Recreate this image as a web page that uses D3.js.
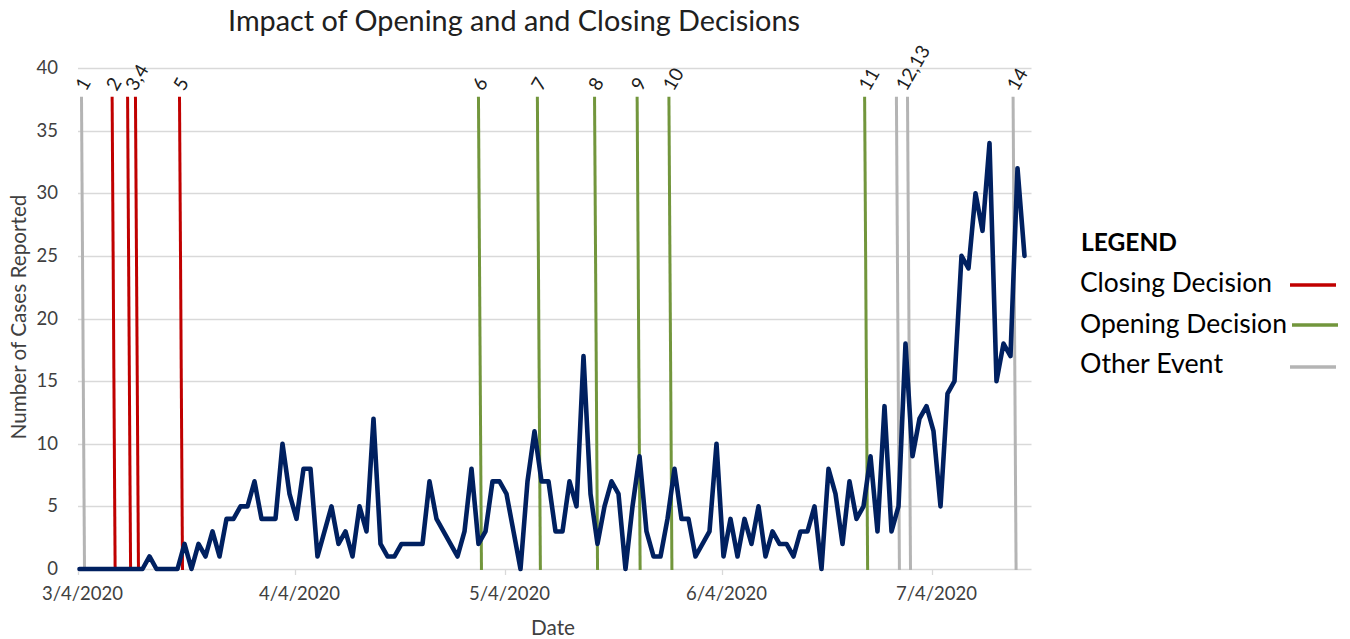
<!DOCTYPE html>
<html>
<head>
<meta charset="utf-8">
<script src="https://cdn.jsdelivr.net/npm/d3@7/dist/d3.min.js"></script>
<style>
  html, body { margin: 0; padding: 0; background: #ffffff; }
  svg { display: block; font-family: Lato, "Open Sans", sans-serif; }
</style>
</head>
<body>
<svg id="chart" width="1350" height="639"></svg>
<script>
// ---------------- DATA ----------------
const chartTitle = "Impact of Opening and and Closing Decisions";
const xAxisTitle = "Date";
const yAxisTitle = "Number of Cases Reported";

const startDate = "2020-03-04";
const endDate = "2020-07-18"; // exclusive end of daily categories (last point 7/17)

const cases = [
  0,0,0,0,0,0,0,0,0,0,
  1,0,0,0,0,2,0,2,1,3,
  1,4,4,5,5,7,4,4,4,10,
  6,4,8,8,1,3,5,2,3,1,
  5,3,12,2,1,1,2,2,2,2,
  7,4,3,2,1,3,8,2,3,7,
  7,6,3,0,7,11,7,7,3,3,
  7,5,17,6,2,5,7,6,0,5,
  9,3,1,1,4,8,4,4,1,2,
  3,10,1,4,1,4,2,5,1,3,
  2,2,1,3,3,5,0,8,6,2,
  7,4,5,9,3,13,3,5,18,9,
  12,13,11,5,14,15,25,24,30,27,
  34,15,18,17,32,25
];

const xTickDates = ["2020-03-04","2020-04-04","2020-05-04","2020-06-04","2020-07-04"];
const xTickLabels = ["3/4/2020","4/4/2020","5/4/2020","6/4/2020","7/4/2020"];
const yTicks = [0,5,10,15,20,25,30,35,40];

const eventDates = [
  "2020-03-04T12:00","2020-03-08T21:00","2020-03-11T02:00","2020-03-12T05:00",
  "2020-03-18T12:00","2020-04-30T05:00","2020-05-08T15:00","2020-05-16T19:00",
  "2020-05-22T21:00","2020-05-27T10:00","2020-06-24T09:00","2020-06-28T22:00",
  "2020-06-30T12:00","2020-07-15T14:00"
];
const eventTypes = [
  "other","closing","closing","closing","closing",
  "opening","opening","opening","opening","opening","opening",
  "other","other","other"
];
const eventTopValue = 37.7;
const eventLabels = ["1","2","3,4","5","6","7","8","9","10","11","12,13","14"];
const eventLabelGroups = [[0],[1],[2,3],[4],[5],[6],[7],[8],[9],[10],[11,12],[13]];

const legendTitle = "LEGEND";
const legendKeys = ["closing","opening","other"];
const legendNames = ["Closing Decision","Opening Decision","Other Event"];

// ---------------- STYLES ----------------
const eventColors = { closing: "#C00000", opening: "#72963C", other: "#B4B4B4" };
const lineColor = "#002060";
const gridColor = "#D9D9D9";
const textColor = "#404040";

// ---------------- DRAW ----------------
const parseDay = d3.timeParse("%Y-%m-%d");
const parseDT = d3.timeParse("%Y-%m-%dT%H:%M");
const days = d3.timeDay.range(parseDay(startDate), parseDay(endDate));
const series = days.map((d, i) => ({ date: d, value: cases[i] }));

const svg = d3.select("#chart");

const x = d3.scaleTime()
  .domain([parseDay(startDate), parseDay(endDate)])
  .range([79.5, 79.5 + 7 * days.length]);
const y = d3.scaleLinear().domain([0, 40]).range([569, 68]);

const plotLeft = 78, plotRight = x.range()[1];

function fitWidth(sel, w) {
  const len = sel.node().getComputedTextLength();
  const fs = parseFloat(sel.attr("font-size"));
  sel.attr("font-size", (fs * w / len).toFixed(2));
}

// gridlines
svg.append("g").selectAll("line").data(yTicks).join("line")
  .attr("x1", plotLeft).attr("x2", plotRight)
  .attr("y1", d => Math.round(y(d)) + 0.5).attr("y2", d => Math.round(y(d)) + 0.5)
  .attr("stroke", gridColor).attr("stroke-width", 1.3);

// y tick labels
svg.append("g").selectAll("text").data(yTicks).join("text")
  .attr("x", 58).attr("y", d => y(d) + 6)
  .attr("text-anchor", "end")
  .attr("font-size", 18.5).attr("fill", textColor)
  .text(d => d);

// x axis ticks
const xTicks = xTickDates.map(parseDay);
svg.append("g").selectAll("line").data(xTicks).join("line")
  .attr("x1", d => Math.round(x(d)) - 1.5).attr("x2", d => Math.round(x(d)) - 1.5)
  .attr("y1", 569).attr("y2", 575)
  .attr("stroke", gridColor).attr("stroke-width", 1.3);
svg.append("g").selectAll("text").data(xTicks).join("text")
  .attr("x", d => x(d) + 3).attr("y", 600)
  .attr("text-anchor", "middle")
  .attr("font-size", 18.5).attr("fill", textColor)
  .text((d, i) => xTickLabels[i]);

// event lines
const skew = 3;
const evG = svg.append("g");
eventDates.forEach((ds, i) => {
  const cx = x(parseDT(ds));
  evG.append("line")
    .attr("x1", cx - skew / 2).attr("y1", y(eventTopValue))
    .attr("x2", cx + skew / 2).attr("y2", y(0) + 1)
    .attr("stroke", eventColors[eventTypes[i]])
    .attr("stroke-width", 3);
});

// data line
const line = d3.line().x(d => x(d.date)).y(d => y(d.value));
svg.append("path").datum(series)
  .attr("d", line)
  .attr("fill", "none")
  .attr("stroke", lineColor)
  .attr("stroke-width", 4.6)
  .attr("stroke-linejoin", "round")
  .attr("stroke-linecap", "round");

// event labels
eventLabels.forEach((lab, i) => {
  const xs = eventLabelGroups[i].map(k => x(parseDT(eventDates[k])));
  const lx = d3.mean(xs) + 3;
  const ly = 92;
  svg.append("text")
    .attr("transform", `translate(${lx},${ly}) rotate(-60)`)
    .attr("font-size", 19).attr("fill", "#202020")
    .text(lab);
});

// title
const t = svg.append("text")
  .attr("x", 514).attr("y", 31)
  .attr("text-anchor", "middle")
  .attr("font-size", 26).attr("fill", "#202020")
  .text(chartTitle);
fitWidth(t, 572);

// axis titles
const xt = svg.append("text")
  .attr("x", 553).attr("y", 635)
  .attr("text-anchor", "middle")
  .attr("font-size", 17).attr("fill", textColor)
  .text(xAxisTitle);
fitWidth(xt, 44);
const yt = svg.append("text")
  .attr("transform", "translate(26,317) rotate(-90)")
  .attr("text-anchor", "middle")
  .attr("font-size", 17).attr("fill", textColor)
  .text(yAxisTitle);
fitWidth(yt, 245);

// legend
const lt = svg.append("text")
  .attr("x", 1081).attr("y", 251)
  .attr("font-size", 22).attr("font-weight", "bold").attr("fill", "#000")
  .text(legendTitle);
fitWidth(lt, 96);
const legendY = [292, 333, 373];
const legendLineY = [285, 325, 367];
const legendWidths = [192, 207, 143];
const legendLineX = [[1290, 1336], [1292, 1338], [1290, 1336]];
legendNames.forEach((n, i) => {
  const tx = svg.append("text")
    .attr("x", 1080).attr("y", legendY[i])
    .attr("font-size", 23).attr("fill", "#000")
    .text(n);
  fitWidth(tx, legendWidths[i]);
  svg.append("line")
    .attr("x1", legendLineX[i][0]).attr("x2", legendLineX[i][1])
    .attr("y1", legendLineY[i]).attr("y2", legendLineY[i])
    .attr("stroke", eventColors[legendKeys[i]])
    .attr("stroke-width", 3.5);
});
</script>
</body>
</html>
